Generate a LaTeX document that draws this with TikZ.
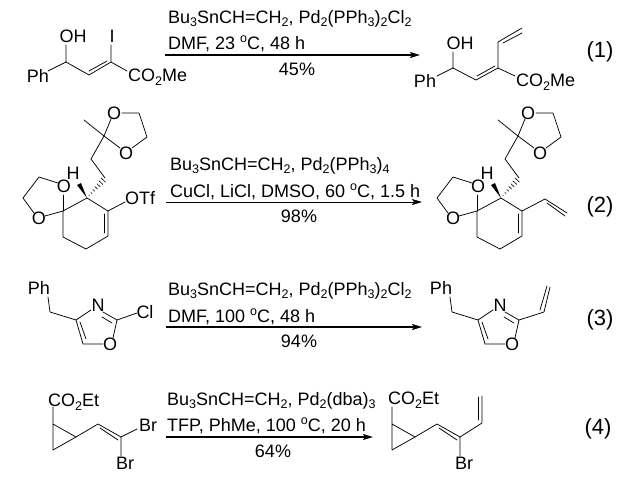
\documentclass[tikz,border=0pt]{standalone}
\usepackage{fontspec}
\setmainfont{Liberation Sans}
\usetikzlibrary{arrows.meta,calc}
\newcommand{\dn}[1]{\raisebox{-3.5pt}{\fontsize{12.5}{12.5}\selectfont #1}}
\newcommand{\degC}{\raisebox{6.5pt}{\fontsize{12.5}{12.5}\selectfont o}C}
\newcommand{\stannane}{Bu\dn{3}SnCH=CH\dn{2}, Pd\dn{2}}
\tikzset{
  bond/.style={line width=0.75pt, line cap=round, line join=round},
  atom/.style={inner sep=0pt, font=\fontsize{18}{18}\selectfont},
  reagent/.style={inner sep=0pt, anchor=base west, font=\fontsize{18}{18}\selectfont},
  yield/.style={inner sep=0pt, font=\fontsize{18}{18}\selectfont},
  eqnum/.style={inner sep=0pt, font=\fontsize{22}{22}\selectfont},
  rxnarrow/.style={line width=1.3pt, -{Stealth[length=10pt,width=6pt,inset=2pt]}}
}
% spiro ketal core, drawn twice
\newcommand{\spirocore}{
  \coordinate (qc) at (104,136);
  \coordinate (me) at (84,120);
  \coordinate (ch1) at (139,113);
  \coordinate (ch2) at (147,137);
  \coordinate (qa) at (111,119);
  \coordinate (qb) at (120,148);
  \coordinate (qd) at (132,148);
  \coordinate (qe) at (122,113);
  \coordinate (ca) at (91,159);
  \coordinate (cb) at (105,178);
  \coordinate (st) at (87,198);
  \coordinate (sp) at (63,211);
  \coordinate (r1) at (108,211);
  \coordinate (r2) at (108,236);
  \coordinate (r3) at (86,249);
  \coordinate (r4) at (63,237);
  \coordinate (i1) at (104,214);
  \coordinate (i2) at (104,233);
  \coordinate (oa) at (63,195);
  \coordinate (ob) at (45,216);
  \coordinate (oc) at (58,183);
  \coordinate (od) at (39,177);
  \coordinate (oe) at (23,198);
  \coordinate (of) at (34,213);
  \node[atom] (otop) at (114,113) {O};
  \node[atom] (obot) at (126,153) {O};
  \node[atom] (hatom) at (73,173) {H};
  \node[atom] (ospa) at (64,186) {O};
  \node[atom] (ospb) at (39,218) {O};
  \draw[bond] (me) -- (qc) -- (qa);
  \draw[bond] (qc) -- (qb);
  \draw[bond] (qe) -- (ch1) -- (ch2) -- (qd);
  \draw[bond] (qc) -- (ca) -- (cb);
  \draw[bond] (st) -- (sp) -- (r4) -- (r3) -- (r2) -- (r1) -- (st);
  \draw[bond] (i1) -- (i2);
  \draw[bond] (sp) -- (oa);
  \draw[bond] (sp) -- (ob);
  \draw[bond] (oc) -- (od) -- (oe) -- (of);
  \fill (st) -- (77,185) -- (81,183) -- cycle;
  \foreach \t in {0.12,0.25,...,1.0}
    \draw[line width=0.6pt] ($(st)!\t!(cb)+(\t*2.6,\t*2.4)$) -- ($(st)!\t!(cb)-(\t*2.6,\t*2.4)$);
}
% benzyl oxazole core, drawn twice
\newcommand{\oxazole}{
  \coordinate (pa) at (48,297);
  \coordinate (pb) at (50,312);
  \coordinate (c4) at (76,320);
  \coordinate (na) at (91,310);
  \coordinate (nb) at (103,312);
  \coordinate (c2) at (117,320);
  \coordinate (oa) at (113,338);
  \coordinate (ob) at (103,344);
  \coordinate (c5) at (83,344);
  \coordinate (i1) at (80,322);
  \coordinate (i2) at (86,339);
  \coordinate (i3) at (102,317);
  \coordinate (i4) at (112,323);
  \node[atom] (ph) at (39,288) {Ph};
  \node[atom] (natom) at (98,305) {N};
  \node[atom] (oatom) at (110,344) {O};
  \draw[bond] (pa) -- (pb) -- (c4) -- (na);
  \draw[bond] (nb) -- (c2) -- (oa);
  \draw[bond] (ob) -- (c5) -- (c4);
  \draw[bond] (i1) -- (i2);
  \draw[bond] (i3) -- (i4);
}
% cyclopropyl ester core, drawn twice
\newcommand{\cyclopropyl}{
  \coordinate (ea) at (53,407);
  \coordinate (cp1) at (53,424);
  \coordinate (cp2) at (53,450);
  \coordinate (cp3) at (76,437);
  \coordinate (v1) at (98,424);
  \coordinate (v2) at (121,437);
  \coordinate (i1) at (100,428);
  \coordinate (i2) at (118,440);
  \coordinate (brb) at (121,456);
  \node[atom] (brlow) at (125,463) {Br};
  \draw[bond] (ea) -- (cp1) -- (cp2) -- (cp3) -- (cp1);
  \draw[bond] (cp3) -- (v1) -- (v2) -- (brb);
  \draw[bond] (i1) -- (i2);
}
\begin{document}
\begin{tikzpicture}[x=1pt,y=-1pt]
  \useasboundingbox (0,0) rectangle (640,491);
  % reaction 1, substrate
  \coordinate (a1) at (66,45);
  \coordinate (a2) at (66,62);
  \coordinate (a3) at (48,71);
  \coordinate (a4) at (89,75);
  \coordinate (a5) at (111,62);
  \coordinate (a6) at (111,45);
  \coordinate (a7) at (127,71);
  \coordinate (a8) at (89,71);
  \coordinate (a9) at (107,61);
  \node[atom] (oh1) at (73,36) {OH};
  \node[atom] (iodo) at (112,36) {I};
  \node[atom] (ph1) at (38,76) {Ph};
  \node[atom, anchor=west] (est1) at (128,77) {CO\dn{2}Me};
  \draw[bond] (a1) -- (a2) -- (a3);
  \draw[bond] (a2) -- (a4) -- (a5) -- (a6);
  \draw[bond] (a5) -- (a7);
  \draw[bond] (a8) -- (a9);
  % reaction 1, product
  \coordinate (b1) at (453,52);
  \coordinate (b2) at (453,68);
  \coordinate (b3) at (437,76);
  \coordinate (b4) at (476,80);
  \coordinate (b5) at (498,68);
  \coordinate (b6) at (498,42);
  \coordinate (b7) at (522,28);
  \coordinate (b8) at (515,76);
  \coordinate (b9) at (477,76);
  \coordinate (b10) at (495,66);
  \coordinate (b11) at (503,43);
  \coordinate (b12) at (522,33);
  \node[atom] (oh2) at (460,43) {OH};
  \node[atom] (ph2) at (425,81) {Ph};
  \node[atom, anchor=west] (est2) at (516,82) {CO\dn{2}Me};
  \draw[bond] (b1) -- (b2) -- (b3);
  \draw[bond] (b2) -- (b4) -- (b5) -- (b6) -- (b7);
  \draw[bond] (b5) -- (b8);
  \draw[bond] (b9) -- (b10);
  \draw[bond] (b11) -- (b12);
  % reaction 1, arrow
  \coordinate (s1) at (165,55);
  \coordinate (e1) at (420,55);
  \draw[rxnarrow] (s1) -- (e1);
  \node[reagent] (top1) at (168,23) {\stannane(PPh\dn{3})\dn{2}Cl\dn{2}};
  \node[reagent] (bot1) at (168,49) {DMF, 23 \degC, 48 h};
  \node[yield] (yld1) at (297,69) {45\%};
  \node[eqnum] (num1) at (600,52) {(1)};
  % reaction 2
  \spirocore
  \coordinate (c1) at (125,202);
  \node[atom] (otf) at (140,198) {OTf};
  \draw[bond] (r1) -- (c1);
  \begin{scope}[xshift=414]
    \spirocore
    \coordinate (c2) at (131,199);
    \coordinate (c3) at (153,213);
    \coordinate (c4) at (133,203);
    \coordinate (c5) at (151,216);
    \draw[bond] (r1) -- (c2) -- (c3);
    \draw[bond] (c4) -- (c5);
  \end{scope}
  \coordinate (s2) at (166,202);
  \coordinate (e2) at (422,202);
  \draw[rxnarrow, line width=0.8pt] (s2) -- (e2);
  \node[reagent] (top2) at (170,170) {\stannane(PPh\dn{3})\dn{4}};
  \node[reagent] (bot2) at (170,197) {CuCl, LiCl, DMSO, 60 \degC, 1.5 h};
  \node[yield] (yld2) at (299,216) {98\%};
  \node[eqnum] (num2) at (600,207) {(2)};
  % reaction 3
  \oxazole
  \coordinate (d1) at (137,313);
  \node[atom] (chloro) at (145,312) {Cl};
  \draw[bond] (c2) -- (d1);
  \begin{scope}[xshift=402]
    \oxazole
    \coordinate (d2) at (142,312);
    \coordinate (d3) at (148,287);
    \coordinate (d4) at (138,310);
    \coordinate (d5) at (145,286);
    \draw[bond] (c2) -- (d2) -- (d3);
    \draw[bond] (d4) -- (d5);
  \end{scope}
  \coordinate (s3) at (166,327);
  \coordinate (e3) at (422,327);
  \draw[rxnarrow] (s3) -- (e3);
  \node[reagent] (top3) at (168,295) {\stannane(PPh\dn{3})\dn{2}Cl\dn{2}};
  \node[reagent] (bot3) at (168,322) {DMF, 100 \degC, 48 h};
  \node[yield] (yld3) at (299,341) {94\%};
  \node[eqnum] (num3) at (600,320) {(3)};
  % reaction 4
  \cyclopropyl
  \coordinate (f1) at (137,429);
  \node[atom, anchor=west] (ester1) at (48,402) {CO\dn{2}Et};
  \node[atom] (brtop) at (148,425) {Br};
  \draw[bond] (v2) -- (f1);
  \begin{scope}[xshift=339]
    \cyclopropyl
    \coordinate (f2) at (143,423);
    \coordinate (f3) at (143,396);
    \coordinate (f4) at (139,397);
    \coordinate (f5) at (139,420);
    \node[atom, anchor=west] (ester2) at (49,400) {CO\dn{2}Et};
    \draw[bond] (v2) -- (f2) -- (f3);
    \draw[bond] (f4) -- (f5);
  \end{scope}
  \coordinate (s4) at (166,437);
  \coordinate (e4) at (373,437);
  \draw[rxnarrow] (s4) -- (e4);
  \node[reagent] (top4) at (167,405) {\stannane(dba)\dn{3}};
  \node[reagent] (bot4) at (167,431) {TFP, PhMe, 100 \degC, 20 h};
  \node[yield] (yld4) at (273,451) {64\%};
  \node[eqnum] (num4) at (598,429) {(4)};
\end{tikzpicture}
\end{document}
